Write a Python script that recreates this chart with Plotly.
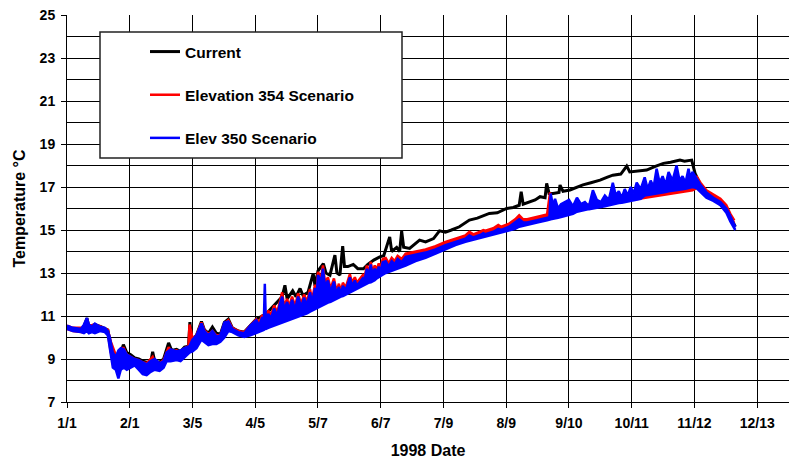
import pandas as pd
import plotly.graph_objects as go

# ---------------- data (days after 1998-01-01) ----------------
current_day = [0, 3, 8, 10, 11, 14, 17, 20.5, 22, 24, 26, 28.3, 30, 32, 34, 36, 38, 40, 42, 43, 44,
               46.5, 48.5, 51, 52.5, 55, 57, 59, 61, 61.7, 62.5, 65, 67.5, 69, 71, 73, 75, 77, 79, 81,
               83, 86, 89, 92, 95, 98, 100, 102, 104, 106, 108, 109.4, 110.5, 113.3, 115, 117, 118.5,
               121, 123.6, 124.5, 126, 128.7, 130, 132, 134.5, 135.5, 137, 138.4, 139.3, 141, 143.7,
               146, 148.8, 151, 154, 157, 159, 162, 163, 165.5, 167, 168, 169, 172, 175, 177, 180,
               184, 187, 190, 193, 197, 202, 206, 212, 216, 220.7, 224, 227, 228, 229, 232, 235,
               237.5, 240, 240.8, 242, 244, 247, 247.5, 249, 252.5, 256, 259, 263, 267.6, 271, 274,
               278, 281, 282.5, 286, 291, 295, 299.4, 303, 307.7, 310, 313.6, 315.3, 318, 321, 324.5,
               328, 331, 333, 335.5]
current_val = [10.5, 10.4, 10.35, 10.9, 10.5, 10.6, 10.5, 10.35, 9.6, 9.2, 9.0, 9.67, 9.3, 9.2, 9.05,
               9.0, 8.9, 8.85, 8.85, 9.33, 8.9, 8.85, 9.0, 9.75, 9.4, 9.45, 9.35, 9.55, 9.6, 10.72,
               9.9, 10.1, 10.75, 10.35, 10.2, 10.49, 10.2, 10.15, 10.7, 10.85, 10.45, 10.3, 10.25,
               10.55, 10.85, 11.0, 11.1, 11.3, 11.5, 11.7, 11.9, 12.43, 11.8, 12.17, 11.9, 12.28,
               11.95, 12.1, 12.98, 12.4, 13.1, 13.44, 13.0, 12.9, 13.83, 13.0, 12.9, 14.25, 13.3,
               13.3, 13.4, 13.2, 13.2, 13.4, 13.6, 13.75, 13.8, 14.68, 14.0, 14.19, 14.0, 14.95,
               14.2, 14.14, 14.4, 14.53, 14.45, 14.6, 14.96, 14.9, 15.0, 15.15, 15.46, 15.55, 15.77,
               15.8, 16.0, 16.05, 16.15, 16.78, 16.2, 16.3, 16.4, 16.55, 16.5, 17.17, 16.7, 16.7,
               16.75, 17.09, 16.8, 16.86, 17.0, 17.1, 17.2, 17.32, 17.45, 17.55, 17.6, 17.97, 17.7,
               17.75, 17.79, 17.95, 18.1, 18.15, 18.25, 18.2, 18.25, 17.63, 17.1, 16.65, 16.45,
               16.3, 16.0, 15.6, 15.15]

elev354_day = [0, 3, 8, 10, 11, 14, 17, 20.5, 22, 24, 26, 28.3, 30, 32, 34, 36, 38, 40, 43, 44, 46.5,
               48.5, 51, 52.5, 55, 57, 59, 61, 61.5, 62.3, 63, 65, 67.5, 69, 71, 73, 75, 77, 79, 81,
               83, 86, 89, 92,
               95, 96.5, 98, 98.8, 99.3, 99.8, 101, 102.5, 104, 105.5, 107, 108, 109, 110.5, 111.5,
               113, 114.5, 116, 117.5, 119, 120.5, 122, 123, 124.5, 125.3, 126, 127.5, 128.5, 129.5,
               131, 132.3, 134, 135.3, 136.5, 137.5, 138.5, 139.4, 140, 141, 142, 143, 144.5, 145.5,
               147, 148.5, 149.3, 150.5, 151.3, 152.5, 153.3, 154.5, 155.5, 156.5, 157.3, 158.5,
               160, 161.5, 163, 164.5, 166, 168, 170,
               175, 180, 185, 190, 195, 200, 202, 204, 208,
               209, 210, 214, 216.5, 218, 222, 225, 227, 229, 231, 236, 241, 242.5, 243.5, 248, 252,
               256, 260, 266, 270, 280, 290, 300, 308, 314, 316, 318, 321, 324.5, 328, 331, 333, 335]
elev354_low = [10.4, 10.3, 10.25, 10.35, 10.3, 10.3, 10.35, 10.2, 9.3, 8.9, 8.8, 9.0, 8.9, 8.85, 8.85,
               8.8, 8.75, 8.7, 8.7, 8.7, 8.65, 8.75, 9.1, 9.1, 9.15, 9.2, 9.3, 9.4, 9.6, 9.7, 9.7,
               9.9, 10.4, 10.1, 9.95, 10.0, 9.95, 10.0, 10.3, 10.6, 10.35, 10.2, 10.15, 10.3,
               10.35, 10.4, 10.42, 10.45, 10.5, 10.5, 10.55, 10.6, 10.65, 10.7, 10.75, 10.8, 10.82,
               10.87, 10.9, 10.97, 11.0, 11.05, 11.1, 11.17, 11.22, 11.3, 11.35, 11.42, 11.46, 11.5,
               11.56, 11.6, 11.65, 11.72, 11.76, 11.85, 11.9, 11.96, 12.0, 12.03, 12.07, 12.1, 12.15,
               12.2, 12.25, 12.32, 12.37, 12.45, 12.52, 12.56, 12.62, 12.64, 12.67, 12.7, 12.77,
               12.85, 12.92, 12.96, 13.02, 13.1, 13.15, 13.2, 13.25, 13.3, 13.38, 13.45,
               13.7, 13.85, 14.05, 14.25, 14.45, 14.6, 14.65, 14.7, 14.8, 14.82, 14.85, 14.95, 15.0,
               15.05, 15.15, 15.2, 15.3, 15.35, 15.4, 15.5, 15.6, 15.62, 15.65, 15.7, 15.8, 15.9,
               16.0, 16.1, 16.2, 16.35, 16.5, 16.65, 16.75, 16.85, 16.95, 16.9, 16.7, 16.5, 16.3,
               16.0, 15.6, 15.3]
elev354_high = [10.55, 10.45, 10.45, 10.85, 10.55, 10.6, 10.5, 10.35, 9.8, 9.3, 9.1, 9.55, 9.2, 9.1,
                9.0, 8.95, 8.85, 8.8, 9.1, 8.85, 8.8, 8.95, 9.55, 9.35, 9.4, 9.3, 9.5, 9.6, 10.6,
                10.3, 9.95, 10.1, 10.7, 10.35, 10.15, 10.3, 10.1, 10.1, 10.65, 10.8, 10.45, 10.3,
                10.25, 10.55,
                10.85, 10.7, 11.05, 10.85, 11.0, 10.95, 11.25, 11.05, 11.5, 11.15, 11.8, 12.1, 11.45,
                11.8, 11.45, 11.9, 11.45, 12.05, 11.55, 12.0, 11.65, 12.25, 11.75, 12.45, 12.05,
                13.05, 12.75, 13.35, 12.55, 12.8, 12.25, 12.75, 12.15, 12.5, 12.15, 12.55, 12.4,
                12.35, 12.65, 12.95, 12.55, 12.8, 12.55, 12.75, 12.9, 12.75, 13.35, 12.95, 13.52,
                13.05, 13.35, 13.15, 13.45, 13.2, 13.65, 13.7, 13.45, 13.7, 13.55, 13.8, 13.65, 13.9,
                14.0, 14.1, 14.25, 14.45, 14.6, 14.75, 14.92, 14.8, 14.95, 15.0, 14.97,
                15.08, 15.23, 15.15, 15.3, 15.5, 15.69, 15.5, 15.5, 15.6, 15.72, 16.75, 15.85, 15.85,
                15.95, 16.05, 16.15, 16.25, 16.3, 16.5, 16.7, 16.85, 16.95, 17.05, 17.5, 17.2,
                16.85, 16.65, 16.45, 16.15, 15.75, 15.45]

elev350_day = [0, 3, 7, 8.5, 10, 11, 12.5, 14, 16.5, 19, 20.5, 21.5, 23, 24.5, 25.8, 27, 28.5, 30, 32,
               34, 36, 38, 40, 42, 44, 46.5, 48.5, 50, 52, 55, 57, 59, 61.5, 63, 65, 67.5, 69, 71,
               73, 75, 77, 79, 81, 83, 86, 89, 92,
               95, 96.5, 98, 98.8, 99.3, 99.8, 101, 102.5, 104, 105.5, 107, 108, 109, 110.5, 111.5,
               113, 114.5, 116, 117.5, 119, 120.5, 122, 123, 124.5, 125.3, 126, 127.5, 128.5, 129.5,
               131, 132.3, 134, 135.3, 136.5, 137.5, 138.5, 140, 141, 142, 143, 144.5, 145.5,
               147, 148.5, 149.3, 150.5, 151.3, 152.5, 153.3, 154.5, 155.5, 156.5, 157.3, 158.5,
               160, 161.5, 163, 164.5, 166, 168, 170,
               175, 180, 185, 190, 195, 200,
               202, 204, 208, 209, 210, 214, 216.5, 218, 222, 225, 227, 229, 231, 236, 241, 242.2,
               242.8, 244, 245, 246.5, 248, 250, 252, 254, 256, 258, 260, 262, 264, 266, 268, 270,
               272, 274, 275.5, 277, 278.5, 280, 281.5, 283, 284.5, 286, 288, 290, 291.5, 293,
               294.5, 296, 297.5, 299, 300.5, 302, 304, 306, 307.5, 309, 310.5, 312, 313, 314, 316,
               318, 321, 324.5, 328, 331, 333, 335.5]
elev350_low = [10.4, 10.3, 10.25, 10.2, 10.3, 10.2, 10.25, 10.2, 10.3, 10.25, 10.1, 9.4, 8.6, 8.5,
               8.1, 8.5, 8.6, 8.5, 8.6, 8.7, 8.5, 8.3, 8.25, 8.4, 8.5, 8.45, 8.6, 8.9, 8.9, 8.95,
               8.9, 9.1, 9.3, 9.35, 9.5, 9.9, 9.8, 9.65, 9.7, 9.7, 9.8, 10.0, 10.3, 10.25, 10.1,
               10.02, 10.1,
               10.2, 10.25, 10.3, 10.35, 10.4, 10.4, 10.45, 10.5, 10.55, 10.6, 10.65, 10.7, 10.72,
               10.77, 10.8, 10.87, 10.9, 10.95, 11.0, 11.07, 11.12, 11.2, 11.25, 11.32, 11.36, 11.4,
               11.46, 11.5, 11.55, 11.62, 11.66, 11.75, 11.8, 11.86, 11.9, 11.93, 12.0, 12.05, 12.1,
               12.15, 12.22, 12.27, 12.35, 12.42, 12.46, 12.52, 12.54, 12.57, 12.6, 12.67, 12.75,
               12.82, 12.86, 12.92, 13.0, 13.05, 13.1, 13.15, 13.2, 13.28, 13.35,
               13.55, 13.7, 13.9, 14.1, 14.3, 14.45,
               14.5, 14.55, 14.65, 14.67, 14.7, 14.8, 14.85, 14.9, 15.0, 15.05, 15.15, 15.2, 15.25,
               15.35, 15.45, 15.5,
               15.5, 15.52, 15.55, 15.57, 15.6, 15.65, 15.7, 15.75, 15.85, 15.9, 15.95, 15.97, 16.0,
               16.05, 16.07, 16.1, 16.15, 16.2, 16.22, 16.25, 16.27, 16.3, 16.32, 16.35, 16.37,
               16.4, 16.45, 16.6, 16.62, 16.65, 16.67, 16.7, 16.72, 16.75, 16.77, 16.8, 16.82,
               16.85, 16.87, 16.9, 16.92, 16.95, 16.97, 17.0, 16.95,
               16.75, 16.5, 16.35, 16.15, 15.8, 15.4, 15.0]
elev350_high = [10.55, 10.45, 10.4, 10.6, 10.9, 10.6, 10.5, 10.65, 10.5, 10.45, 10.3, 10.0, 9.3, 9.1,
                9.4, 9.5, 9.45, 9.2, 9.1, 9.0, 8.95, 8.85, 8.75, 8.9, 9.0, 8.8, 8.9, 9.3, 9.45, 9.35,
                9.4, 9.5, 9.6, 9.9, 10.1, 10.65, 10.3, 10.1, 10.3, 10.05, 10.1, 10.7, 10.75, 10.4,
                10.25, 10.2, 10.55,
                10.8, 10.55, 10.95, 10.7, 12.5, 10.8, 11.1, 10.9, 11.35, 11.0, 11.6, 11.9, 11.3,
                11.65, 11.3, 11.75, 11.3, 11.9, 11.4, 11.85, 11.5, 12.1, 11.6, 12.3, 11.9, 12.9,
                12.6, 13.2, 12.4, 12.65, 12.1, 12.6, 12.0, 12.35, 12.0, 12.4, 12.2, 12.5, 12.8,
                12.4, 12.65, 12.4, 12.6, 12.75, 12.6, 13.2, 12.8, 13.4, 12.9, 13.2, 13.0, 13.3,
                13.05, 13.5, 13.55, 13.3, 13.55, 13.4, 13.65, 13.5, 13.75,
                13.85, 13.95, 14.1, 14.3, 14.45, 14.6,
                14.75, 14.65, 14.8, 14.85, 14.8, 14.92, 15.05, 15.0, 15.15, 15.35, 15.5, 15.35,
                15.35, 15.45, 15.55, 15.6,
                16.7, 16.1, 16.45, 16.0, 16.2, 16.3, 16.4, 16.1, 16.5, 16.2, 16.3, 16.1, 16.85,
                16.4, 16.3, 16.6, 16.4, 17.2, 16.6, 16.8, 16.5, 16.9, 16.6, 17.0, 16.7, 17.2, 16.9,
                17.45, 16.9, 17.3, 17.0, 17.85, 17.2, 17.5, 17.1, 17.7, 17.3, 18.0, 17.3, 17.5,
                17.2, 17.85, 17.4, 17.7, 17.4,
                17.1, 16.75, 16.5, 16.3, 16.0, 15.65, 15.15]

series_names = ["Current", "Elevation 354 Scenario", "Elev 350 Scenario"]
tick_dates = ["1998-01-01", "1998-02-01 12:00", "1998-03-05", "1998-04-05 12:00", "1998-05-07",
              "1998-06-07 12:00", "1998-07-09", "1998-08-09 12:00", "1998-09-10", "1998-10-11 12:00",
              "1998-11-12", "1998-12-13 12:00"]
tick_labels = ["1/1", "2/1", "3/5", "4/5", "5/7", "6/7", "7/9", "8/9", "9/10", "10/11", "11/12", "12/13"]

# ---------------- figure ----------------
start = pd.Timestamp("1998-01-01")


def to_dates(days):
    return start + pd.to_timedelta(days, unit="D")


FONT = "Arial, 'Liberation Sans', sans-serif"
BLACK, RED, BLUE = "#000000", "#FF0000", "#0000FF"

fig = go.Figure()
fig.add_trace(go.Scatter(x=to_dates(current_day), y=current_val, mode="lines", name=series_names[0],
                         line=dict(color=BLACK, width=3), legendgroup="a"))
fig.add_trace(go.Scatter(x=to_dates(elev354_day), y=elev354_low, mode="lines", name=series_names[1],
                         line=dict(color=RED, width=2.5), legendgroup="b"))
fig.add_trace(go.Scatter(x=to_dates(elev354_day), y=elev354_high, mode="lines", name=series_names[1],
                         line=dict(color=RED, width=2.5), fill="tonexty", fillcolor=RED,
                         legendgroup="b", showlegend=False))
fig.add_trace(go.Scatter(x=to_dates(elev350_day), y=elev350_low, mode="lines", name=series_names[2],
                         line=dict(color=BLUE, width=2.5), legendgroup="c"))
fig.add_trace(go.Scatter(x=to_dates(elev350_day), y=elev350_high, mode="lines", name=series_names[2],
                         line=dict(color=BLUE, width=2.5), fill="tonexty", fillcolor=BLUE,
                         legendgroup="c", showlegend=False))

W, H = 789, 461
L, T, R, B = 67, 15, 0, 59
pw, ph = W - L - R, H - T - B


def px(xp):
    return (xp - L) / pw


def py(yp):
    return (H - B - yp) / ph


fig.update_layout(
    width=W, height=H,
    margin=dict(l=L, r=R, t=T, b=B, autoexpand=False),
    paper_bgcolor="white", plot_bgcolor="white",
    font=dict(family=FONT, size=14, color="black", weight="bold"),
    showlegend=True,
    legend=dict(x=px(145), y=py(35), xanchor="left", yanchor="top",
                bgcolor="rgba(0,0,0,0)", borderwidth=0, tracegroupgap=20,
                font=dict(family=FONT, size=15.5, color="black", weight="bold"),
                itemwidth=30),
    shapes=[dict(type="rect", xref="paper", yref="paper", x0=px(100), x1=px(402),
                 y0=py(158), y1=py(32), fillcolor="white", line=dict(color="#222", width=1.5),
                 layer="above")],
)

fig.update_xaxes(
    type="date", automargin=False,
    range=[start, start + pd.Timedelta(days=362.45)],
    tickmode="array", tickvals=tick_dates, ticktext=tick_labels,
    ticks="outside", ticklen=5, tickcolor="black", ticklabelstandoff=3,
    showgrid=True, gridcolor="black", gridwidth=1,
    showline=True, linecolor="black", linewidth=1, zeroline=False,
    tickfont=dict(family=FONT, size=14, weight="bold"),
    title=dict(text="1998 Date", font=dict(family=FONT, size=16, weight="bold"), standoff=15),
)
fig.update_yaxes(
    automargin=False,
    range=[7, 25], tick0=7, dtick=2,
    ticks="outside", ticklen=5, tickcolor="black", ticklabelstandoff=3,
    showgrid=True, gridcolor="black", gridwidth=1,
    minor=dict(dtick=1, tick0=7, showgrid=True, gridcolor="black", gridwidth=1, ticks=""),
    showline=True, linecolor="black", linewidth=1, zeroline=False,
    tickfont=dict(family=FONT, size=14, weight="bold"),
    title=dict(text="Temperature °C", font=dict(family=FONT, size=16, weight="bold"), standoff=10),
)

fig.write_html("out.html", config={"displayModeBar": False},
               post_script="document.body.style.margin='0';document.body.style.overflow='hidden';")
